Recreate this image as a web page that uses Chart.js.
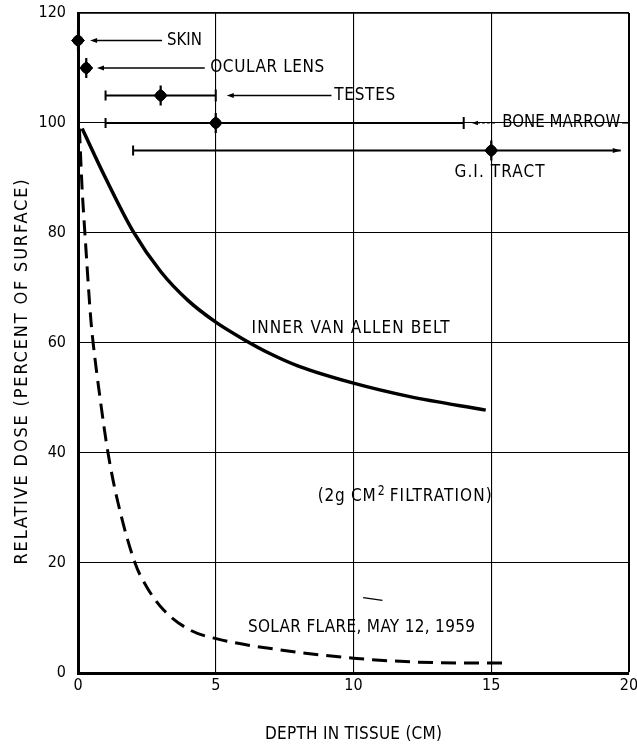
<!DOCTYPE html>
<html><head><meta charset="utf-8">
<script src="https://cdn.jsdelivr.net/npm/chart.js@4.4.1/dist/chart.umd.min.js"></script>
<style>html,body{margin:0;padding:0;background:#fff;overflow:hidden;}#wrap{width:637px;height:745px;position:relative;}</style>
</head><body><div id="wrap"><canvas id="c"></canvas></div>
<script>
// ---- data ----
const xTicks = [0, 5, 10, 15, 20];
const yTicks = [0, 20, 40, 60, 80, 100, 120];
const vanAllenDepth = [0.15, 1, 2, 3, 4, 5, 6, 7, 8, 10, 12, 14.8];
const vanAllenDose  = [99, 90, 80.3, 73, 67.7, 63.8, 60.7, 58, 55.8, 52.7, 50.3, 47.8];
const flareDepth = [0.05, 0.15, 0.25, 0.47, 0.55, 0.8, 1.09, 1.45, 2.07, 2.5, 3.1, 4.07, 5.05, 7.35, 10, 12.2, 15, 15.6];
const flareDose  = [99, 88, 80, 64, 60, 50, 40, 31, 20, 15.6, 11.5, 7.8, 6.2, 4.2, 2.7, 2.0, 1.8, 1.8];
const organs     = ['SKIN', 'OCULAR LENS', 'TESTES', 'BONE MARROW', 'G.I. TRACT'];
const organDepth = [0, 0.3, 3, 5, 15];
const organDose  = [115, 110, 105, 100, 95];
const rangeLow   = [null, null, 1, 1, 2];
const rangeHigh  = [null, null, 5, 14, 19.7];

const FONT = "'Liberation Sans Narrow','DejaVu Sans Condensed','DejaVu Sans',sans-serif";
const pts = (xs, ys) => xs.map((x, i) => ({x, y: ys[i]}));
const organPts = pts(organDepth, organDose);

const datasets = [
  {data: pts(vanAllenDepth, vanAllenDose), borderColor:'#000', borderWidth:3.5, pointRadius:0, cubicInterpolationMode:'monotone', fill:false},
  {data: pts(flareDepth, flareDose), borderColor:'#000', borderWidth:3, borderDash:[15,8], pointRadius:0, cubicInterpolationMode:'monotone', fill:false}
];
organs.forEach((o, i) => {
  if (rangeLow[i] == null) return;
  datasets.push({data:[{x:rangeLow[i], y:organDose[i]}, {x:rangeHigh[i], y:organDose[i]}],
    borderColor:'#000', borderWidth:2.2, pointStyle:'line', rotation:90,
    pointRadius: rangeHigh[i] >= 19 ? [5,0] : [5,6], pointBorderWidth:2, pointBorderColor:'#000', clip:false});
});
datasets.push({data: organPts, showLine:false, pointStyle:'line', rotation:90, pointRadius:10, pointBorderWidth:2.2, pointBorderColor:'#000', clip:false});
datasets.push({data: organPts, showLine:false, pointStyle:'rectRot', pointRadius:6.5, pointBackgroundColor:'#000', pointBorderColor:'#000', pointBorderWidth:1, clip:false});
datasets.push({data: organPts, showLine:false, pointStyle:'circle', pointRadius:5, pointBackgroundColor:'#000', pointBorderColor:'#000', pointBorderWidth:1, clip:false});

function fitText(ctx, text, px, py, width, size, align) {
  ctx.save();
  ctx.font = size + 'px ' + FONT;
  ctx.textBaseline = 'middle';
  ctx.textAlign = 'left';
  const w = ctx.measureText(text).width;
  let x0 = px;
  if ('letterSpacing' in ctx && width > w) {
    const sp = (width - w) / Math.max(text.length - 1, 1);
    ctx.letterSpacing = sp + 'px';
    if (align === 'center') x0 = px - width / 2;
    else if (align === 'right') x0 = px - width;
    ctx.fillText(text, x0, py);
  } else {
    const s = width / w;
    ctx.translate(px, py); ctx.scale(s, 1);
    ctx.textAlign = align || 'left';
    ctx.fillText(text, 0, 0);
  }
  ctx.restore();
}
function arrowHead(ctx, x, y, dir, len, half) {
  ctx.beginPath();
  ctx.moveTo(x, y);
  ctx.lineTo(x - dir * len, y - half);
  ctx.lineTo(x - dir * len, y + half);
  ctx.closePath();
  ctx.fill();
}
function hline(ctx, x1, x2, y, w, dash) {
  ctx.save();
  ctx.lineWidth = w;
  if (dash) ctx.setLineDash(dash);
  ctx.beginPath(); ctx.moveTo(x1, y); ctx.lineTo(x2, y); ctx.stroke();
  ctx.restore();
}

const annot = {
  id: 'annot',
  afterDatasetsDraw(chart) {
    const {ctx, scales:{x, y}, chartArea} = chart;
    const X = v => x.getPixelForValue(v), Y = v => y.getPixelForValue(v);
    ctx.save();
    ctx.strokeStyle = '#000'; ctx.fillStyle = '#000';
    // leader arrows
    const arrows = [[0.44, 3.05, 115], [0.69, 4.6, 110], [5.4, 9.2, 105]];
    arrows.forEach(a => { hline(ctx, X(a[0]) + 4, X(a[1]), Y(a[2]), 1.3); arrowHead(ctx, X(a[0]), Y(a[2]), -1, 7, 2.6); });
    // bone marrow leader
    arrowHead(ctx, X(14.3), Y(100), -1, 6, 2.2);
    hline(ctx, X(14.3) + 5, X(15.2), Y(100), 1.2, [3, 2]);
    hline(ctx, X(19.75), X(20), Y(100), 1.2);
    // G.I. arrowhead
    arrowHead(ctx, X(19.7), Y(95), 1, 8, 2.5);
    // organ labels
    const lx = [3.23, 4.8, 9.3, 15.4, 15.3];
    const ly = [115, 110, 105, 100, 91];
    const lw = [35, 114, 61, 118, 90];
    const la = ['left', 'left', 'left', 'left', 'center'];
    organs.forEach((o, i) => fitText(ctx, o, X(lx[i]), Y(ly[i]), lw[i], 17, la[i]));
    // curve labels
    fitText(ctx, 'INNER VAN ALLEN BELT', X(6.3), Y(62.7), 198, 17, 'left');
    fitText(ctx, 'SOLAR FLARE, MAY 12, 1959', X(6.17), Y(8.2), 227, 17, 'left');
    // (2g CM2 FILTRATION) with superscript
    fitText(ctx, '(2g CM', X(8.7), Y(32), 58, 17, 'left');
    fitText(ctx, '2', X(8.7) + 60, Y(32) - 6, 7, 14, 'left');
    fitText(ctx, 'FILTRATION)', X(8.7) + 72, Y(32), 102, 17, 'left');
    // small stray mark
    ctx.lineWidth = 1.3;
    ctx.beginPath(); ctx.moveTo(X(10.35), Y(13.7)); ctx.lineTo(X(11.05), Y(13.2)); ctx.stroke();
    // axis titles
    fitText(ctx, 'DEPTH IN TISSUE (CM)', (chartArea.left + chartArea.right) / 2, 735, 177, 17, 'center');
    ctx.save();
    ctx.translate(22, 372); ctx.rotate(-Math.PI / 2);
    fitText(ctx, 'RELATIVE DOSE (PERCENT OF SURFACE)', 0, 0, 385, 18, 'center');
    ctx.restore();
    ctx.restore();
  }
};

new Chart(document.getElementById('c'), {
  type: 'line',
  data: {datasets},
  options: {
    responsive: true, maintainAspectRatio: false, animation: false,
    layout: {autoPadding: false, padding: {top: 13, right: 8, left: 0, bottom: 0}},
    plugins: {legend: {display: false}, tooltip: {enabled: false}},
    scales: {
      x: {type: 'linear', min: 0, max: 20,
        afterBuildTicks: s => { s.ticks = xTicks.map(v => ({value: v})); },
        afterFit: s => { s.height = 72; s.paddingRight = 0; s.paddingLeft = 0; },
        ticks: {color: '#000', font: {family: FONT, size: 16}, padding: 3, maxRotation: 0},
        grid: {color: '#000', lineWidth: c => (c.tick && c.tick.value === 20 ? 2 : 1.1), drawTicks: false},
        border: {color: '#000', width: 3}},
      y: {type: 'linear', min: 0, max: 120,
        afterBuildTicks: s => { s.ticks = yTicks.map(v => ({value: v})); },
        afterFit: s => { s.width = 78; s.paddingTop = 0; s.paddingBottom = 0; },
        ticks: {color: '#000', font: {family: FONT, size: 16}, padding: 12},
        grid: {color: '#000', lineWidth: c => (c.tick && c.tick.value === 120 ? 1.8 : 1.1), drawTicks: false},
        border: {color: '#000', width: 3}}
    }
  },
  plugins: [annot]
});
</script></body></html>
